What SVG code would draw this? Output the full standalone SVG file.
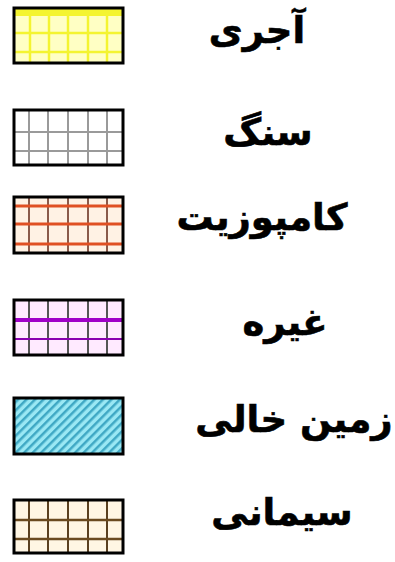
<svg xmlns="http://www.w3.org/2000/svg" width="395" height="562" viewBox="0 0 395 562">
<style>
.frame{fill:none;stroke:#000;stroke-width:3}
.lbl{font-family:"DejaVu Sans",sans-serif;font-weight:bold;font-size:37px;fill:#000;stroke:#000;stroke-width:0.6;text-anchor:middle}
</style>
<defs>
<pattern id="hatch" width="6" height="6" patternUnits="userSpaceOnUse" patternTransform="rotate(-45)">
<rect width="6" height="6" fill="#9ae8f4"/>
<rect width="6" height="2.5" fill="#3fa8c4"/>
</pattern>
</defs>
<rect width="395" height="562" fill="#fff"/>
<g id="brick">
<rect x="14" y="8" width="109" height="55" fill="#ffffc4"/>
<g stroke="#f4f430" stroke-width="2.5">
<line x1="30" y1="8" x2="30" y2="63"/><line x1="49" y1="8" x2="49" y2="63"/><line x1="68" y1="8" x2="68" y2="63"/><line x1="88" y1="8" x2="88" y2="63"/><line x1="107" y1="8" x2="107" y2="63"/>
<line x1="14" y1="33" x2="123" y2="33"/><line x1="14" y1="52" x2="123" y2="52"/>
</g>
<rect x="14" y="9" width="109" height="7" fill="#f4f430"/>
<rect class="frame" x="14" y="8" width="109" height="55"/>
<text class="lbl" x="257" y="43">آجری</text>
</g>
<g id="stone">
<rect x="14" y="110" width="109" height="55" fill="#fff"/>
<g stroke="#9a9a9a" stroke-width="2">
<line x1="29" y1="110" x2="29" y2="165"/><line x1="48" y1="110" x2="48" y2="165"/><line x1="68" y1="110" x2="68" y2="165"/><line x1="88" y1="110" x2="88" y2="165"/><line x1="107" y1="110" x2="107" y2="165"/>
<line x1="14" y1="132" x2="123" y2="132"/><line x1="14" y1="151" x2="123" y2="151"/>
</g>
<rect class="frame" x="14" y="110" width="109" height="55"/>
<text class="lbl" x="268" y="145">سنگ</text>
</g>
<g id="composite">
<rect x="14" y="197" width="109" height="56" fill="#fff2e4"/>
<g stroke="#8a5a4a" stroke-width="2">
<line x1="29" y1="197" x2="29" y2="253"/><line x1="48" y1="197" x2="48" y2="253"/><line x1="68" y1="197" x2="68" y2="253"/><line x1="88" y1="197" x2="88" y2="253"/><line x1="107" y1="197" x2="107" y2="253"/>
</g>
<g stroke="#e05022" stroke-width="3">
<line x1="14" y1="206" x2="123" y2="206"/><line x1="14" y1="224" x2="123" y2="224"/><line x1="14" y1="244" x2="123" y2="244"/>
</g>
<rect class="frame" x="14" y="197" width="109" height="56"/>
<text class="lbl" x="262" y="230">کامپوزیت</text>
</g>
<g id="other">
<rect x="14" y="300" width="109" height="55" fill="#ffeaff"/>
<g stroke="#555" stroke-width="2">
<line x1="29" y1="300" x2="29" y2="355"/><line x1="48" y1="300" x2="48" y2="355"/><line x1="68" y1="300" x2="68" y2="355"/><line x1="88" y1="300" x2="88" y2="355"/><line x1="107" y1="300" x2="107" y2="355"/>
</g>
<line x1="14" y1="320" x2="123" y2="320" stroke="#a000c8" stroke-width="4"/>
<line x1="14" y1="339" x2="123" y2="339" stroke="#8a00b0" stroke-width="2"/>
<rect class="frame" x="14" y="300" width="109" height="55"/>
<text class="lbl" x="285" y="335">غیره</text>
</g>
<g id="empty-land">
<rect x="14" y="398" width="109" height="56" fill="url(#hatch)"/>
<rect class="frame" x="14" y="398" width="109" height="56"/>
<text class="lbl" x="294" y="432">زمین خالی</text>
</g>
<g id="cement">
<rect x="14" y="500" width="109" height="53" fill="#fff6e4"/>
<g stroke="#5a4020" stroke-width="2">
<line x1="29" y1="500" x2="29" y2="553"/><line x1="48" y1="500" x2="48" y2="553"/><line x1="68" y1="500" x2="68" y2="553"/><line x1="88" y1="500" x2="88" y2="553"/><line x1="107" y1="500" x2="107" y2="553"/>
</g>
<g stroke="#6a4a20" stroke-width="2.5">
<line x1="14" y1="520" x2="123" y2="520"/><line x1="14" y1="539" x2="123" y2="539"/>
</g>
<rect class="frame" x="14" y="500" width="109" height="53"/>
<text class="lbl" x="282" y="525">سیمانی</text>
</g>
<g id="connectors"/>
</svg>
